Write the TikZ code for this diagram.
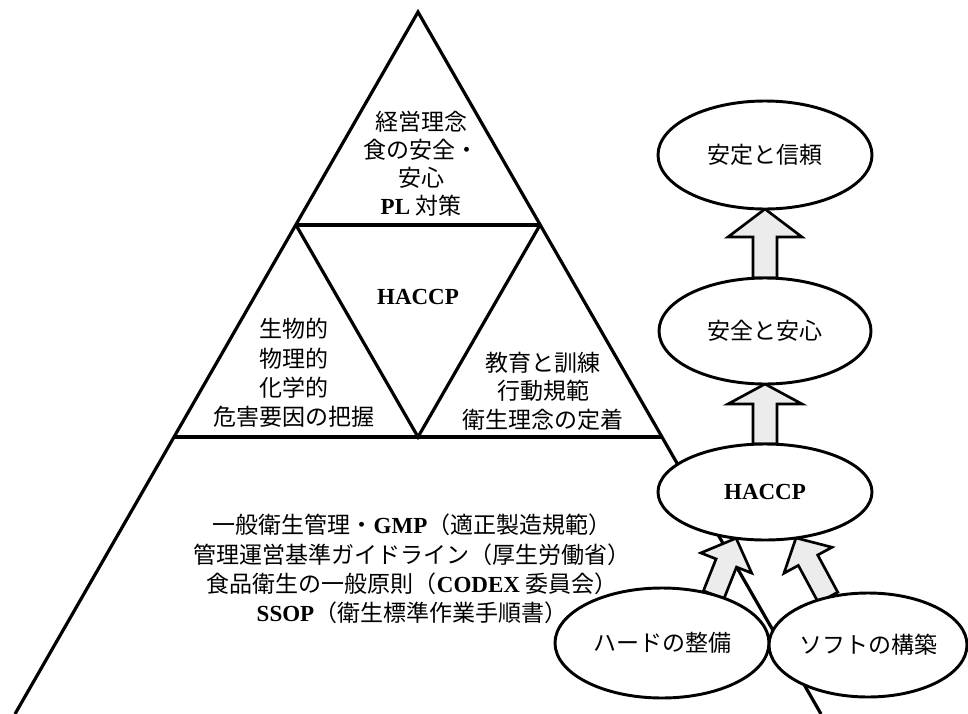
\documentclass[tikz,border=0pt]{standalone}
\usepackage{fontspec}
\setmainfont{Liberation Serif}
\newfontfamily\jp{Noto Sans CJK JP}
\usetikzlibrary{shapes.geometric,calc}
\pgfdeclarelayer{bg}
\pgfdeclarelayer{mid}
\pgfsetlayers{bg,mid,main}
\newcommand\lat[1]{{\rmfamily\bfseries #1}}
\newcommand\blockarr[5]{%
  \coordinate (ah) at ($(#2)!#5!(#1)$);
  \draw[blk] ($(#1)!#3!-90:(#2)$) -- ($(ah)!#3!-90:(#2)$) -- ($(ah)!#4!-90:(#2)$) -- (#2)
    -- ($(ah)!#4!90:(#2)$) -- ($(ah)!#3!90:(#2)$) -- ($(#1)!#3!90:(#2)$) -- cycle;}
\begin{document}
\begin{tikzpicture}[x=0.75pt,y=-0.75pt,
  tri/.style={line width=2.4pt},
  ell/.style={draw, ellipse, fill=white, line width=2.2pt, inner sep=0pt, outer sep=0pt,
    font=\jp\fontsize{17.25pt}{22pt}\selectfont},
  blk/.style={draw, fill=gray!15, line width=2pt, line join=miter},
  txt/.style={align=center, inner sep=0pt, font=\jp\fontsize{17.25pt}{22pt}\selectfont}]
\useasboundingbox (0,0) rectangle (968,714);
% triangle coordinates
\coordinate (apex) at (418,12);
\coordinate (bl) at (15,714);
\coordinate (br) at (821,714);
\coordinate (tl) at (296,225);
\coordinate (tr) at (540,225);
\coordinate (hl) at (174,437);
\coordinate (hr) at (662,437);
\coordinate (hm) at (418,437);
% texts in the pyramid
\node[txt, font=\jp\fontsize{17.25pt}{21pt}\selectfont] (toptext) at (421,164)
  {経営理念\\食の安全・\\安心\\\lat{PL} 対策};
\node[txt] (hacc) at (418,297) {\lat{HACCP}};
\node[txt] (lefttext) at (294,373) {生物的\\物理的\\化学的\\危害要因の把握};
\node[txt, font=\jp\fontsize{17.25pt}{21.5pt}\selectfont] (righttext) at (543,391)
  {教育と訓練\\行動規範\\衛生理念の定着};
\node[txt] (bottomtext) at (412,569)
  {一般衛生管理・\lat{GMP}（適正製造規範）\\管理運営基準ガイドライン（厚生労働省）\\
   食品衛生の一般原則（\lat{CODEX} 委員会）\\\lat{SSOP}（衛生標準作業手順書）};
% ellipses
\node[ell, minimum width=160.5pt, minimum height=81pt] (e1) at (765,155) {安定と信頼};
\node[ell, minimum width=159pt, minimum height=79.5pt] (e2) at (765,331) {安全と安心};
\node[ell, minimum width=160.5pt, minimum height=72pt] (e3) at (765,492) {\lat{HACCP}};
\node[ell, minimum width=160.5pt, minimum height=82.5pt] (e4) at (662,643) {ハードの整備};
\node[ell, minimum width=148.5pt, minimum height=78pt] (e5) at (868,645) {ソフトの構築};
\begin{pgfonlayer}{bg}
  \draw[tri] (bl) -- (apex) -- (br);
  \draw[tri] (tl) -- (tr);
  \draw[tri] (hl) -- (hr);
  \draw[tri] (tl) -- (hm) -- (tr);
\end{pgfonlayer}
\begin{pgfonlayer}{mid}
  \blockarr{e2.north}{e1.south}{9pt}{27.75pt}{21pt}
  \blockarr{e3.north}{e2.south}{9pt}{27.75pt}{15pt}
  \blockarr{e4.43}{e3.238}{8.25pt}{20.5pt}{20pt}
  \blockarr{e5.130}{e3.304}{8.25pt}{20.5pt}{19pt}
\end{pgfonlayer}
\end{tikzpicture}
\end{document}
